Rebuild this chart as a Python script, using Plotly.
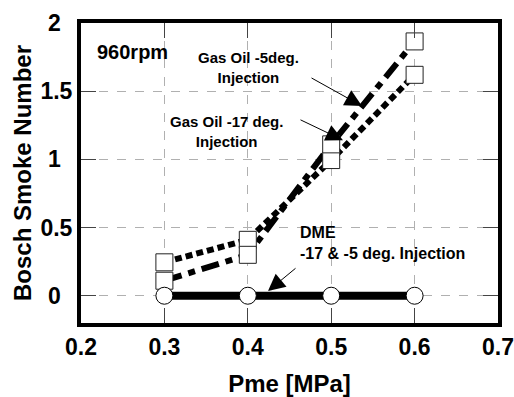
import plotly.graph_objects as go

pme = [0.3, 0.4, 0.5, 0.6]
gasoil_m5 = [0.11, 0.30, 1.11, 1.865]
gasoil_m17 = [0.245, 0.41, 0.995, 1.62]
dme = [0.0, 0.0, 0.0, 0.0]

x_ticks = [0.2, 0.3, 0.4, 0.5, 0.6, 0.7]
y_ticks = [0, 0.5, 1, 1.5, 2]
y_ticktext = ["0\u2002", "0.5", "1\u2002", "1.5", "2\u2002"]

FONT = "Liberation Sans, Arial, sans-serif"

fig = go.Figure()

fig.add_trace(go.Scatter(x=pme, y=gasoil_m17, mode="lines",
                         line=dict(color="black", width=6, dash="7px,4px"),
                         showlegend=False, hoverinfo="skip"))
fig.add_trace(go.Scatter(x=pme, y=gasoil_m5, mode="lines",
                         line=dict(color="black", width=6, dash="18px,7px,7px,7px"),
                         showlegend=False, hoverinfo="skip"))
for ys in (gasoil_m17, gasoil_m5):
    fig.add_trace(go.Scatter(x=pme, y=ys, mode="markers",
                             marker=dict(symbol="square", size=17, color="white",
                                         line=dict(color="#222", width=1)),
                             showlegend=False))
fig.add_trace(go.Scatter(x=pme, y=dme, mode="lines+markers",
                         line=dict(color="black", width=8),
                         marker=dict(symbol="circle", size=17, color="white",
                                     line=dict(color="black", width=1)),
                         showlegend=False))

gas_font = dict(family=FONT, size=15, color="black", weight="bold")
dme_font = dict(family=FONT, size=16, color="black", weight="bold")
annotations = [
    dict(x=0.2168, y=1.787, text="960rpm", showarrow=False, xanchor="left",
         yanchor="middle", font=dict(family=FONT, size=20, color="black", weight="bold")),
    dict(x=0.4014, y=1.673, text="Gas Oil -5deg.<br>Injection", showarrow=False,
         xanchor="center", yanchor="middle", font=gas_font),
    dict(x=0.375, y=1.204, text="Gas Oil -17 deg.<br>Injection", showarrow=False,
         xanchor="center", yanchor="middle", font=gas_font),
    dict(x=0.4602, y=0.386, text="DME<br>-17 & -5 deg. Injection", showarrow=False,
         xanchor="left", yanchor="middle", align="left", font=dme_font),
]
arrows = [
    (0.5369, 1.391, 0.4746, 1.603),
    (0.5141, 1.141, 0.4614, 1.295),
    (0.4242, 0.034, 0.459, 0.21),
]
for (x, y, ax, ay) in arrows:
    annotations.append(dict(x=x, y=y, ax=ax, ay=ay, xref="x", yref="y",
                            axref="x", ayref="y", text="", showarrow=True,
                            arrowhead=2, arrowsize=3.4, arrowwidth=1,
                            arrowcolor="black"))

fig.update_layout(
    width=514, height=397,
    margin=dict(l=81, r=16, t=23, b=74),
    paper_bgcolor="white", plot_bgcolor="white",
    font=dict(family=FONT, color="black"),
    annotations=annotations,
)
fig.update_xaxes(
    range=[0.2, 0.7], tickvals=x_ticks, ticktext=[f"{v:.1f}" for v in x_ticks],
    showline=True, linewidth=4, linecolor="black", mirror="ticks",
    ticks="inside", ticklen=15, tickwidth=1, tickcolor="#444",
    showgrid=True, gridcolor="#b0b0b0", griddash="dash", gridwidth=1,
    zeroline=False, automargin=False, ticklabeloverflow="allow",
    tickfont=dict(family=FONT, size=23, color="black", weight="bold"),
    title=dict(text="Pme [MPa]", standoff=22,
               font=dict(family=FONT, size=24, color="black", weight="bold")),
)
fig.update_yaxes(
    range=[-0.2, 2.0], tickvals=y_ticks, ticktext=y_ticktext,
    showline=True, linewidth=4, linecolor="black", mirror="ticks",
    ticks="inside", ticklen=15, tickwidth=1, tickcolor="#444",
    showgrid=True, gridcolor="#b0b0b0", griddash="dash", gridwidth=1,
    zeroline=False, automargin=False, ticklabeloverflow="allow",
    tickfont=dict(family=FONT, size=23, color="black", weight="bold"),
    title=dict(text="Bosch Smoke Number", standoff=3,
               font=dict(family=FONT, size=24, color="black", weight="bold")),
)

fig.write_html("out.html")
